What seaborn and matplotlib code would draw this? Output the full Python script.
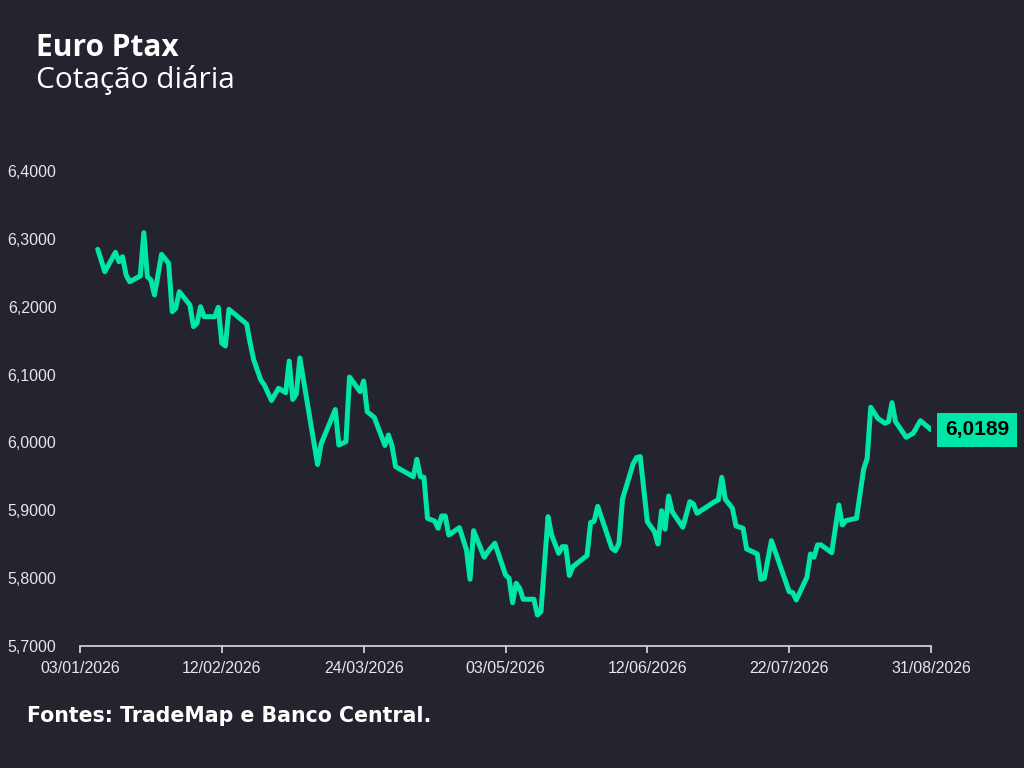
import matplotlib
matplotlib.use("Agg")
import matplotlib.pyplot as plt
import matplotlib.dates as mdates
import matplotlib.ticker as mticker
import pandas as pd
import seaborn as sns

FUNDO = "#24242f"
VERDE = "#00e6a8"
CINZA = "#e6e6e6"

# datas e cotacao (euro ptax, R$)
datas = ["2026-01-08", "2026-01-10", "2026-01-13", "2026-01-14", "2026-01-15", "2026-01-16",
         "2026-01-17", "2026-01-20", "2026-01-21", "2026-01-22", "2026-01-23", "2026-01-24",
         "2026-01-26", "2026-01-28", "2026-01-29", "2026-01-30", "2026-01-31", "2026-02-03",
         "2026-02-04", "2026-02-05", "2026-02-06", "2026-02-07", "2026-02-10", "2026-02-11",
         "2026-02-12", "2026-02-13", "2026-02-14", "2026-02-19", "2026-02-20", "2026-02-21",
         "2026-02-23", "2026-02-24", "2026-02-26", "2026-02-28", "2026-03-02", "2026-03-03",
         "2026-03-04", "2026-03-05", "2026-03-06", "2026-03-11", "2026-03-12", "2026-03-16",
         "2026-03-17", "2026-03-19", "2026-03-20", "2026-03-23", "2026-03-24", "2026-03-25",
         "2026-03-27", "2026-03-30", "2026-03-31", "2026-04-01", "2026-04-02", "2026-04-07",
         "2026-04-08", "2026-04-09", "2026-04-10", "2026-04-11", "2026-04-13", "2026-04-14",
         "2026-04-15", "2026-04-16", "2026-04-17", "2026-04-20", "2026-04-22", "2026-04-23",
         "2026-04-24", "2026-04-27", "2026-04-28", "2026-04-30", "2026-05-03", "2026-05-04",
         "2026-05-05", "2026-05-06", "2026-05-07", "2026-05-08", "2026-05-11", "2026-05-12",
         "2026-05-13", "2026-05-15", "2026-05-16", "2026-05-18", "2026-05-19", "2026-05-20",
         "2026-05-21", "2026-05-22", "2026-05-26", "2026-05-27", "2026-05-28", "2026-05-29",
         "2026-06-02", "2026-06-03", "2026-06-04", "2026-06-05", "2026-06-08", "2026-06-09",
         "2026-06-10", "2026-06-12", "2026-06-14", "2026-06-15", "2026-06-16", "2026-06-17",
         "2026-06-18", "2026-06-19", "2026-06-22", "2026-06-24", "2026-06-25", "2026-06-26",
         "2026-07-01", "2026-07-02", "2026-07-03", "2026-07-04", "2026-07-06", "2026-07-07",
         "2026-07-09", "2026-07-10", "2026-07-13", "2026-07-14", "2026-07-15", "2026-07-17",
         "2026-07-22", "2026-07-23", "2026-07-24", "2026-07-27", "2026-07-28", "2026-07-29",
         "2026-07-30", "2026-07-31", "2026-08-03", "2026-08-05", "2026-08-06", "2026-08-07",
         "2026-08-10", "2026-08-12", "2026-08-13", "2026-08-14", "2026-08-16", "2026-08-18",
         "2026-08-19", "2026-08-20", "2026-08-21", "2026-08-24", "2026-08-26", "2026-08-28",
         "2026-08-31"]

cotacao = [6.2846, 6.2516, 6.2802, 6.2663, 6.2737, 6.2467,
           6.2369, 6.2453, 6.3091, 6.2442, 6.2394, 6.2173,
           6.2772, 6.2640, 6.1927, 6.1977, 6.2221, 6.2025,
           6.1706, 6.1756, 6.2000, 6.1853, 6.1853, 6.1991,
           6.1461, 6.1421, 6.1962, 6.1745, 6.1461, 6.1215,
           6.0920, 6.0846, 6.0618, 6.0798, 6.0733, 6.1200,
           6.0633, 6.0714, 6.1244, 5.9675, 5.9977, 6.0485,
           5.9962, 6.0011, 6.0964, 6.0748, 6.0905, 6.0453,
           6.0368, 5.9955, 6.0110, 5.9948, 5.9643, 5.9495,
           5.9752, 5.9495, 5.9486, 5.8882, 5.8842, 5.8735,
           5.8916, 5.8916, 5.8636, 5.8744, 5.8415, 5.7983,
           5.8699, 5.8308, 5.8390, 5.8514, 5.8047, 5.7998,
           5.7638, 5.7924, 5.7851, 5.7689, 5.7689, 5.7457,
           5.7506, 5.8906, 5.8636, 5.8366, 5.8464, 5.8464,
           5.8039, 5.8169, 5.8334, 5.8820, 5.8838, 5.9059,
           5.8440, 5.8403, 5.8514, 5.9167, 5.9685, 5.9778,
           5.9790, 5.8832, 5.8685, 5.8503, 5.8994, 5.8720,
           5.9211, 5.8980, 5.8750, 5.9127, 5.9093, 5.8956,
           5.9127, 5.9152, 5.9486, 5.9162, 5.9030, 5.8769,
           5.8735, 5.8430, 5.8356, 5.7983, 5.7998, 5.8552,
           5.7801, 5.7786, 5.7678, 5.8013, 5.8356, 5.8308,
           5.8489, 5.8489, 5.8375, 5.9078, 5.8783, 5.8847,
           5.8882, 5.9604, 5.9766, 6.0518, 6.0356, 6.0282,
           6.0306, 6.0586, 6.0306, 6.0076, 6.0135, 6.0320,
           6.0189]

ticks_x = ["03/01/2026", "12/02/2026", "24/03/2026", "03/05/2026",
           "12/06/2026", "22/07/2026", "31/08/2026"]
ticks_y = [5.7, 5.8, 5.9, 6.0, 6.1, 6.2, 6.3, 6.4]

titulo = "Euro Ptax"
subtitulo = "Cotação diária"
fonte = "Fontes: TradeMap e Banco Central."

df = pd.DataFrame({"data": pd.to_datetime(datas), "cotacao": cotacao})
pos_x = pd.to_datetime(ticks_x, format="%d/%m/%Y")

sns.set_style("dark", rc={"axes.facecolor": FUNDO, "figure.facecolor": FUNDO})
plt.rcParams["font.family"] = ["Liberation Sans", "DejaVu Sans"]

fig = plt.figure(figsize=(10.24, 7.68), dpi=100)
ax = fig.add_axes([80 / 1024, 1 - 646 / 768, 851 / 1024, 475 / 768])

sns.lineplot(data=df, x="data", y="cotacao", color=VERDE, linewidth=3.6, ax=ax)

ax.set_xlim(pos_x[0], pos_x[-1])
ax.set_ylim(ticks_y[0], ticks_y[-1])
ax.set_xticks(pos_x)
ax.xaxis.set_major_formatter(mdates.DateFormatter("%d/%m/%Y"))
ax.set_yticks(ticks_y)
ax.yaxis.set_major_formatter(mticker.FuncFormatter(lambda v, p: f"{v:.4f}".replace(".", ",")))
ax.set_xlabel("")
ax.set_ylabel("")
ax.grid(False)

for s in ["top", "right", "left"]:
    ax.spines[s].set_visible(False)
ax.spines["bottom"].set_color("#cfcfcf")
ax.spines["bottom"].set_linewidth(1.3)
ax.tick_params(axis="x", colors=CINZA, labelsize=11.5, length=5, width=1.3, color="#cfcfcf",
               direction="out", pad=6, bottom=True)
ax.tick_params(axis="y", colors=CINZA, labelsize=11.5, length=0, pad=17, left=False)

# rotulo do ultimo valor
ultimo = df.iloc[-1]
ax.annotate(f"{ultimo['cotacao']:.4f}".replace(".", ","), xy=(ultimo["data"], ultimo["cotacao"]),
            xytext=(10, 0), textcoords="offset points", va="center", ha="left",
            fontsize=15, fontweight="bold", color="black", annotation_clip=False,
            bbox=dict(boxstyle="square,pad=0.36", fc=VERDE, ec="none"))

fig.text(36 / 1024, 1 - 56 / 768, titulo, fontsize=21.5, fontweight="bold", color="white",
         family=["Open Sans", "DejaVu Sans"])
fig.text(36 / 1024, 1 - 88 / 768, subtitulo, fontsize=21.5, color="white",
         family=["Open Sans", "DejaVu Sans"])
fig.text(27 / 1024, 1 - 722 / 768, fonte, fontsize=14.8, fontweight="bold", color="white",
         family=["DejaVu Sans"])

fig.savefig("out.png", dpi=100, facecolor=FUNDO)
